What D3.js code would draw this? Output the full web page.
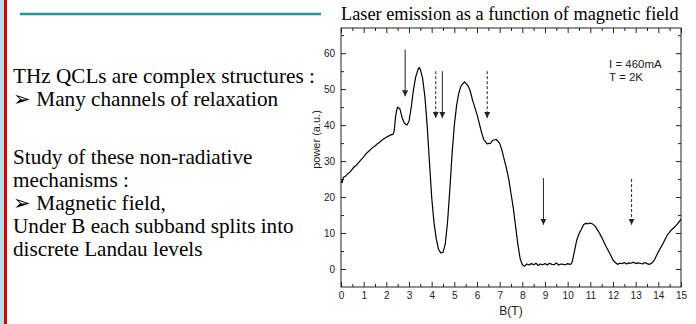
<!doctype html><html><head><style>body{margin:0;background:#fff}</style></head><body><script src='https://d3js.org/d3.v7.min.js'></script>
<script>
  // magnetic field (T) and laser power (a.u.)
  const fieldB = [0, 0.05, 0.1, 0.2, 0.3, 0.4, 0.5, 0.6, 0.7, 0.8, 0.9, 1.0, 1.1, 1.2, 1.3, 1.4, 1.5, 1.6, 1.7, 1.8, 1.9, 2.0, 2.1, 2.2, 2.3, 2.35, 2.4, 2.45, 2.5, 2.6, 2.7, 2.8, 2.9, 3.0, 3.1, 3.2, 3.3, 3.4, 3.45, 3.5, 3.6, 3.7, 3.8, 3.9, 4.0, 4.1, 4.2, 4.3, 4.4, 4.5, 4.6, 4.7, 4.8, 4.9, 5.0, 5.1, 5.2, 5.3, 5.45, 5.6, 5.7, 5.8, 5.9, 6.0, 6.1, 6.2, 6.3, 6.45, 6.6, 6.7, 6.85, 7.0, 7.1, 7.2, 7.3, 7.4, 7.5, 7.6, 7.7, 7.8, 7.9, 8.0, 8.1, 8.2, 8.3, 8.4, 8.5, 8.6, 8.7, 8.8, 8.9, 9.0, 9.1, 9.2, 9.3, 9.4, 9.5, 9.6, 9.7, 9.8, 9.9, 10.0, 10.1, 10.15, 10.2, 10.3, 10.4, 10.5, 10.6, 10.7, 10.8, 10.9, 11.0, 11.1, 11.2, 11.3, 11.4, 11.5, 11.6, 11.7, 11.8, 11.9, 12.0, 12.1, 12.2, 12.3, 12.4, 12.5, 12.6, 12.7, 12.8, 12.9, 13.0, 13.1, 13.2, 13.3, 13.4, 13.5, 13.6, 13.7, 13.8, 13.9, 14.0, 14.2, 14.4, 14.6, 14.8, 15.0];
  const power = [24.5, 24, 25.5, 25.8, 26.5, 27, 27.8, 28.5, 29, 29.8, 30.5, 31.2, 32, 32.6, 33.2, 33.8, 34.2, 34.8, 35.2, 35.8, 36.2, 36.6, 37, 37.3, 37.5, 38.5, 42, 44, 45, 44.5, 42, 40.5, 40, 41, 45, 50, 53.5, 55.5, 56, 55.5, 53, 48, 40, 30, 20, 13, 8.5, 5.5, 4.5, 4.6, 7, 13, 22, 32, 40, 45.5, 49, 51, 52, 51, 49.5, 47, 45, 43, 40.5, 38, 36, 34.8, 35, 35.8, 36, 35, 33, 30.5, 28, 25, 21, 17, 12, 7, 3, 1.2, 0.8, 1.4, 1.1, 1.5, 1.2, 1.6, 1.0, 1.4, 1.2, 1.5, 1.1, 1.6, 1.3, 1.2, 1.7, 1.1, 1.4, 1.3, 1.2, 1.5, 1.3, 1.4, 2, 5, 8, 9.8, 11, 12.3, 12.7, 12.6, 12.8, 12.5, 12, 11, 10, 8.8, 7.5, 6.2, 5, 3.8, 2.5, 1.8, 1.3, 1.6, 1.5, 1.8, 1.4, 1.7, 1.6, 1.9, 1.5, 1.7, 1.6, 1.4, 1.8, 1.5, 1.3, 1.6, 2.2, 3.5, 4.8, 7, 9.5, 11, 12.2, 13.8];

  // arrows marking transitions: field, start and end power, dashed or not
  const arrowB = [2.83, 4.18, 4.47, 6.45, 8.93, 12.82];
  const arrowFrom = [61, 55, 55, 55, 25.3, 25];
  const arrowTo = [48, 42, 42, 42, 12.3, 12.3];
  const arrowDashed = [false, true, false, true, false, true];

  const xTicks = d3.range(0, 16, 1);
  const yTicks = [0, 10, 20, 30, 40, 50, 60];

  const leftLines = [
    { t: "THz QCLs are complex structures :", y: 83 },
    { t: "\u27A2 Many channels of relaxation", y: 106 },
    { t: "Study of these non-radiative", y: 164 },
    { t: "mechanisms :", y: 187 },
    { t: "\u27A2 Magnetic field,", y: 210 },
    { t: "Under B each subband splits into", y: 233 },
    { t: "discrete Landau levels", y: 256 }
  ];

  const W = 696, H = 324;
  const svg = d3.select("body").append("svg").attr("width", W).attr("height", H);

  // slide decorations
  svg.append("rect").attr("x", 0).attr("y", 0).attr("width", 4).attr("height", H).attr("fill", "#b5dde6");
  svg.append("rect").attr("x", 4).attr("y", 0).attr("width", 3).attr("height", H).attr("fill", "#d40000");
  svg.append("line").attr("x1", 20).attr("x2", 321).attr("y1", 14).attr("y2", 14)
    .attr("stroke", "#2a9494").attr("stroke-width", 2.5);

  svg.selectAll("text.left").data(leftLines).enter().append("text")
    .attr("class", "left")
    .attr("x", 13).attr("y", d => d.y)
    .attr("font-family", "Liberation Serif, Times New Roman, serif")
    .attr("font-size", "21.2px").attr("fill", "#000")
    .text(d => d.t);

  svg.append("text").attr("x", 341).attr("y", 20)
    .attr("font-family", "Liberation Serif, Times New Roman, serif")
    .attr("font-size", "18.3px").text("Laser emission as a function of magnetic field");

  // chart
  const pLeft = 341, pRight = 681, pTop = 28, pBottom = 287;
  const x = d3.scaleLinear().domain([0, 15]).range([pLeft, pRight]);
  const y = d3.scaleLinear().domain([-5, 67]).range([pBottom, pTop]);

  const sans = "Liberation Sans, Arial, sans-serif";
  const minorY = [5, 15, 25, 35, 45, 55, 65];
  const minorX = d3.range(0.5, 15, 1);

  function styleAxis(g) {
    g.select(".domain").remove();
    g.selectAll("line").attr("stroke", "#222");
    g.selectAll("text").attr("font-family", sans).attr("font-size", "10px").attr("fill", "#222");
  }

  svg.append("g").attr("transform", `translate(0,${pBottom})`)
    .call(d3.axisBottom(x).tickValues(xTicks).tickSize(-5).tickPadding(5).tickFormat(d3.format("d")))
    .call(styleAxis);
  svg.append("g").attr("transform", `translate(0,${pBottom})`)
    .call(d3.axisBottom(x).tickValues(minorX).tickSize(-3).tickFormat(""))
    .call(styleAxis);
  svg.append("g").attr("transform", `translate(0,${pTop})`)
    .call(d3.axisTop(x).tickValues(xTicks).tickSize(-5).tickFormat(""))
    .call(styleAxis);
  svg.append("g").attr("transform", `translate(0,${pTop})`)
    .call(d3.axisTop(x).tickValues(minorX).tickSize(-3).tickFormat(""))
    .call(styleAxis);

  svg.append("g").attr("transform", `translate(${pLeft},0)`)
    .call(d3.axisLeft(y).tickValues(yTicks).tickSize(-5).tickPadding(6).tickFormat(d3.format("d")))
    .call(styleAxis);
  svg.append("g").attr("transform", `translate(${pLeft},0)`)
    .call(d3.axisLeft(y).tickValues(minorY).tickSize(-3).tickFormat(""))
    .call(styleAxis);
  svg.append("g").attr("transform", `translate(${pRight},0)`)
    .call(d3.axisRight(y).tickValues(yTicks).tickSize(-5).tickFormat(""))
    .call(styleAxis);
  svg.append("g").attr("transform", `translate(${pRight},0)`)
    .call(d3.axisRight(y).tickValues(minorY).tickSize(-3).tickFormat(""))
    .call(styleAxis);

  svg.append("rect").attr("x", pLeft).attr("y", pTop)
    .attr("width", pRight - pLeft).attr("height", pBottom - pTop)
    .attr("fill", "none").attr("stroke", "#222").attr("stroke-width", 1);

  svg.append("text").attr("x", (pLeft + pRight) / 2).attr("y", 315)
    .attr("text-anchor", "middle").attr("font-family", sans).attr("font-size", "12px")
    .attr("fill", "#222").text("B(T)");
  svg.append("text").attr("transform", `translate(320,${y(36)}) rotate(-90)`)
    .attr("text-anchor", "middle").attr("font-family", sans).attr("font-size", "11px")
    .attr("fill", "#222").text("power (a.u.)");

  // curve
  const pts = fieldB.map((b, i) => [b, power[i]]);
  svg.append("path").datum(pts)
    .attr("fill", "none").attr("stroke", "#000").attr("stroke-width", 1.2)
    .attr("stroke-linejoin", "round")
    .attr("d", d3.line().x(d => x(d[0])).y(d => y(d[1])));

  // arrows
  svg.append("defs").append("marker").attr("id", "head")
    .attr("viewBox", "0 0 10 10").attr("refX", 10).attr("refY", 5)
    .attr("markerWidth", 6).attr("markerHeight", 7).attr("markerUnits", "userSpaceOnUse")
    .attr("orient", "auto")
    .append("path").attr("d", "M0,0L10,5L0,10Z").attr("fill", "#222");

  svg.selectAll("line.arrow").data(arrowB).enter().append("line")
    .attr("class", "arrow")
    .attr("x1", d => x(d)).attr("x2", d => x(d))
    .attr("y1", (d, i) => y(arrowFrom[i])).attr("y2", (d, i) => y(arrowTo[i]))
    .attr("stroke", "#222").attr("stroke-width", 1)
    .attr("stroke-dasharray", (d, i) => arrowDashed[i] ? "3,2" : null)
    .attr("marker-end", "url(#head)");

  // legend
  svg.append("text").attr("x", 609).attr("y", 68)
    .attr("font-family", sans).attr("font-size", "11.5px").attr("fill", "#222").text("I = 460mA");
  svg.append("text").attr("x", 609).attr("y", 81)
    .attr("font-family", sans).attr("font-size", "11.5px").attr("fill", "#222").text("T = 2K");
</script></body></html>
